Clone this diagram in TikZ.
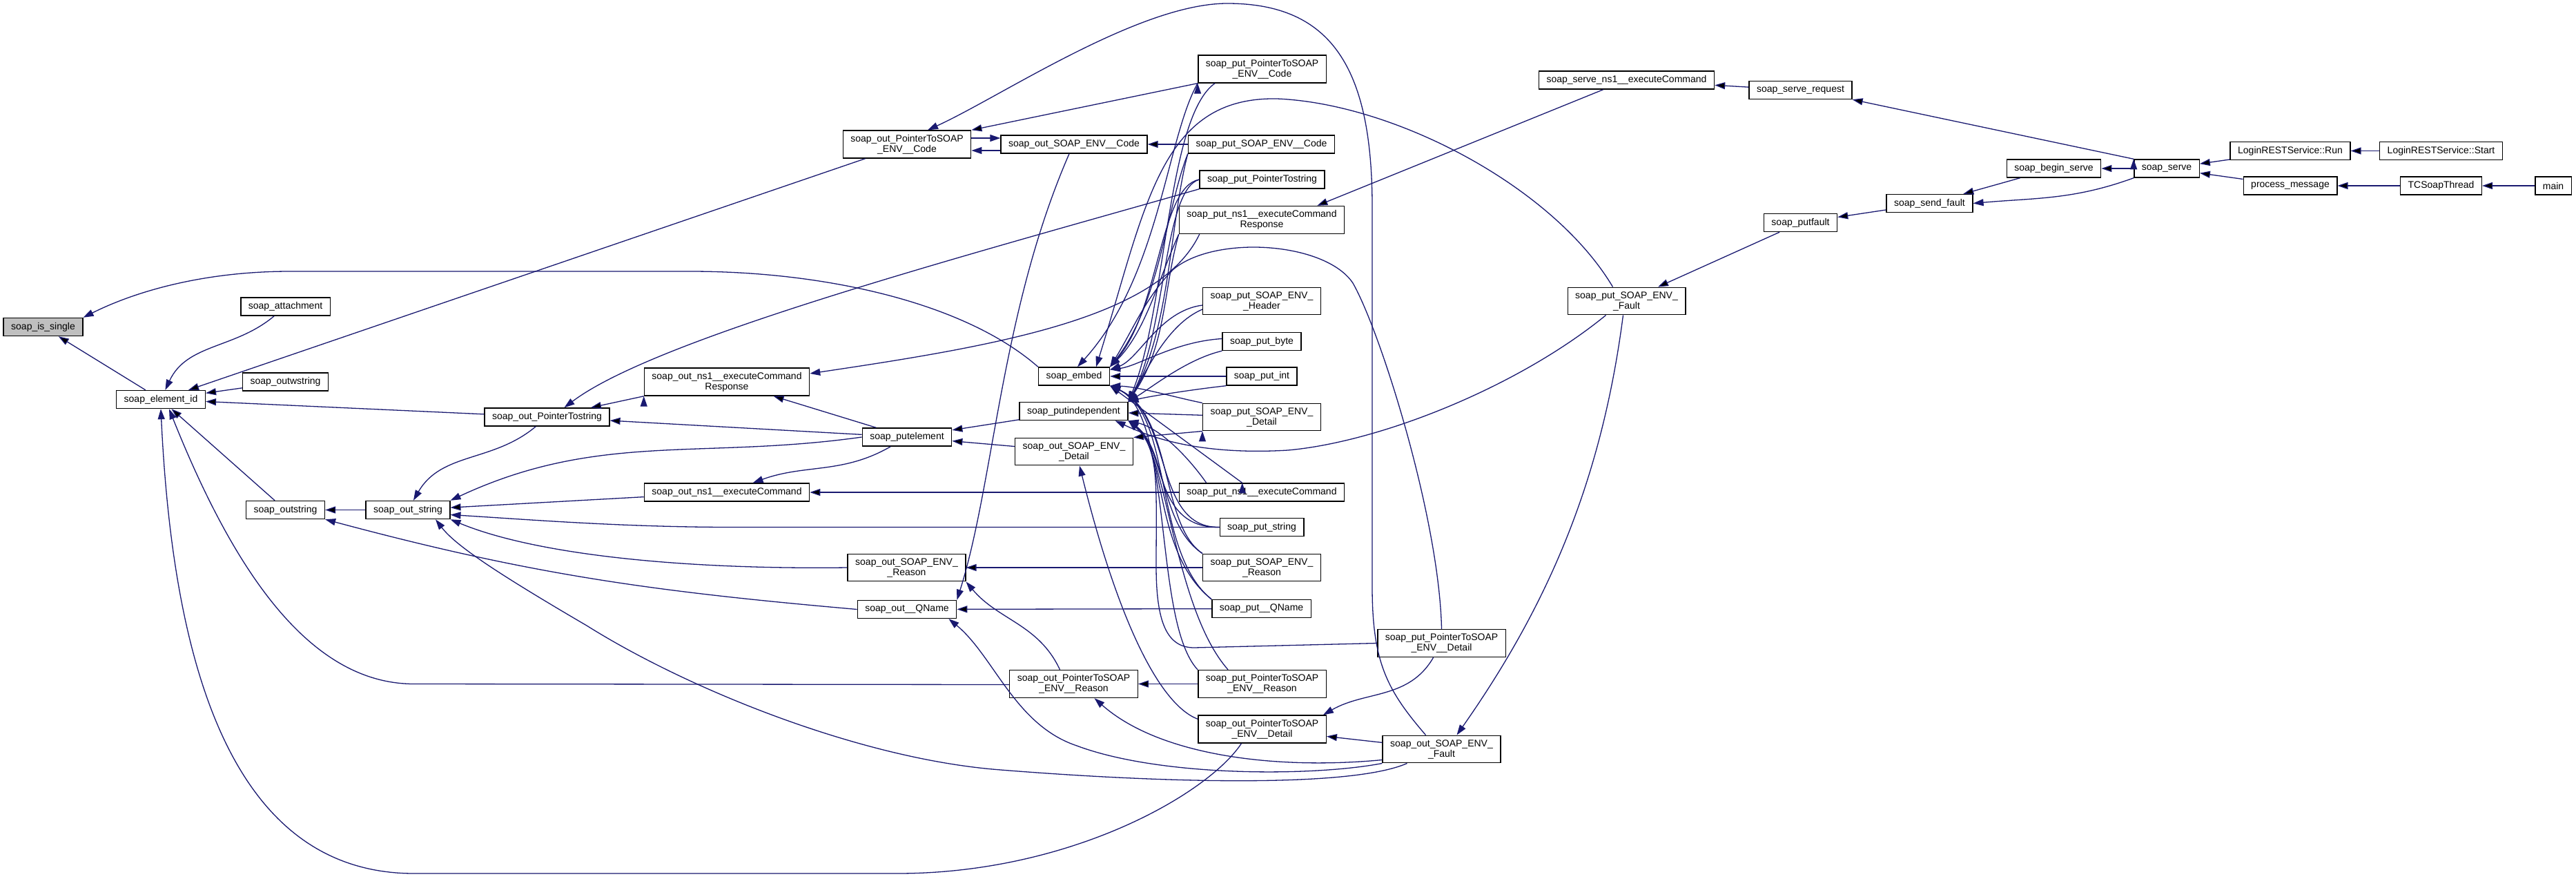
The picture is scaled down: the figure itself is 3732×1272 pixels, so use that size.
\documentclass[tikz,border=0pt]{standalone}
\usepackage{fontspec}
\setmainfont{Liberation Sans}
\usetikzlibrary{arrows.meta}
\definecolor{callblue}{RGB}{25,25,112}
\definecolor{rootgray}{RGB}{191,191,191}

\begin{document}
\begin{tikzpicture}[x=1pt, y=1pt,
	fn/.style={draw, rectangle, fill=white, line width=1.4pt, inner xsep=11pt, inner ysep=6pt, minimum height=26pt, align=center, font=\fontsize{14}{15}\selectfont},
	call/.style={draw=callblue, line width=1.3pt, -{Triangle[length=15pt, width=10pt]}}]
				\useasboundingbox (0,0) rectangle (3732,-1272);
				\node[fn, fill=rootgray] (isSingle) at (62.5,-473.5) {soap\_is\_single};
				\node[fn] (elementId) at (233,-578.5) {soap\_element\_id};
				\node[fn] (attachment) at (413.5,-444) {soap\_attachment};
				\node[fn] (outwstring) at (413.5,-553) {soap\_outwstring};
				\node[fn] (outstring) at (413.5,-738.5) {soap\_outstring};
				\node[fn] (outString) at (591,-738.5) {soap\_out\_string};
				\node[fn] (outPtrString) at (792.5,-604) {soap\_out\_PointerTostring};
				\node[fn] (outResp) at (1053,-553) {soap\_out\_ns1\_\_executeCommand\\Response};
				\node[fn] (outCmd) at (1053,-713) {soap\_out\_ns1\_\_executeCommand};
				\node[fn] (putelement) at (1314,-633) {soap\_putelement};
				\node[fn] (outEnvReason) at (1313.5,-822) {soap\_out\_SOAP\_ENV\_\\\_Reason};
				\node[fn] (outQName) at (1314,-882.5) {soap\_out\_\_QName};
				\node[fn] (outPtrCode) at (1314,-209) {soap\_out\_PointerToSOAP\\\_ENV\_\_Code};
				\node[fn] (outEnvCode) at (1556,-209) {soap\_out\_SOAP\_ENV\_\_Code};
				\node[fn] (embed) at (1556,-545) {soap\_embed};
				\node[fn] (putIndep) at (1555.5,-595.5) {soap\_putindependent};
				\node[fn] (outEnvDetail) at (1556,-654) {soap\_out\_SOAP\_ENV\_\\\_Detail};
				\node[fn] (outPtrReason) at (1555.5,-990.5) {soap\_out\_PointerToSOAP\\\_ENV\_\_Reason};
				\node[fn] (putPtrCode) at (1828.5,-100) {soap\_put\_PointerToSOAP\\\_ENV\_\_Code};
				\node[fn] (putEnvCode) at (1827.5,-209) {soap\_put\_SOAP\_ENV\_\_Code};
				\node[fn] (putPtrString) at (1828.5,-260) {soap\_put\_PointerTostring};
				\node[fn] (putResp) at (1828,-318.5) {soap\_put\_ns1\_\_executeCommand\\Response};
				\node[fn] (putHeader) at (1828,-436) {soap\_put\_SOAP\_ENV\_\\\_Header};
				\node[fn] (putByte) at (1828,-494.5) {soap\_put\_byte};
				\node[fn] (putInt) at (1828,-545) {soap\_put\_int};
				\node[fn] (putEnvDetail) at (1828,-604) {soap\_put\_SOAP\_ENV\_\\\_Detail};
				\node[fn] (putCmd) at (1828,-713) {soap\_put\_ns1\_\_executeCommand};
				\node[fn] (putString) at (1828,-763.5) {soap\_put\_string};
				\node[fn] (putEnvReason) at (1828,-822) {soap\_put\_SOAP\_ENV\_\\\_Reason};
				\node[fn] (putQName) at (1827.5,-881.5) {soap\_put\_\_QName};
				\node[fn] (putPtrReason) at (1828.5,-990.5) {soap\_put\_PointerToSOAP\\\_ENV\_\_Reason};
				\node[fn] (outPtrDetail) at (1828.5,-1056) {soap\_out\_PointerToSOAP\\\_ENV\_\_Detail};
				\node[fn] (putPtrDetail) at (2088.5,-931.5) {soap\_put\_PointerToSOAP\\\_ENV\_\_Detail};
				\node[fn] (outEnvFault) at (2088.5,-1085) {soap\_out\_SOAP\_ENV\_\\\_Fault};
				\node[fn] (serveCmd) at (2356.5,-116) {soap\_serve\_ns1\_\_executeCommand};
				\node[fn] (putEnvFault) at (2356.5,-436) {soap\_put\_SOAP\_ENV\_\\\_Fault};
				\node[fn] (serveRequest) at (2608.5,-130.5) {soap\_serve\_request};
				\node[fn] (putfault) at (2608.5,-322.5) {soap\_putfault};
				\node[fn] (sendFault) at (2795.5,-294.5) {soap\_send\_fault};
				\node[fn] (beginServe) at (2975.5,-244) {soap\_begin\_serve};
				\node[fn] (serve) at (3139,-244) {soap\_serve};
				\node[fn] (loginRun) at (3318,-218.5) {LoginRESTService::Run};
				\node[fn] (processMsg) at (3318,-269) {process\_message};
				\node[fn] (loginStart) at (3536.5,-218.5) {LoginRESTService::Start};
				\node[fn] (tcThread) at (3536.5,-269) {TCSoapThread};
				\node[fn] (main) at (3699,-269) {main};
				\draw[call] (main) edge (tcThread);
				\draw[call] (tcThread) edge (processMsg);
				\draw[call] (loginStart) edge (loginRun);
				\draw[call] (loginRun) edge (serve);
				\draw[call] (processMsg) edge (serve);
				\draw[call] (serve) edge (beginServe);
				\draw[call] (serve.north west) edge (serveRequest.south east);
				\draw[call] (serve.south west) to[out=200,in=5] (sendFault.east);
				\draw[call] (beginServe) edge (sendFault);
				\draw[call] (sendFault) edge (putfault);
				\draw[call] (putfault) edge (putEnvFault);
				\draw[call] (serveRequest) edge (serveCmd);
				\draw[call] (serveCmd) edge ([xshift=-40pt]putResp.north east);
				\draw[call] ([xshift=-5pt]putEnvFault.south) .. controls (2320,-700) and (2240,-880) .. ([xshift=22pt]outEnvFault.north);
				\draw[call] ([xshift=-20pt]putEnvFault.north) .. controls (2250,-270) and (2020,-150) .. (1850,-143) .. controls (1680,-140) and (1660,-300) .. ([xshift=32pt]embed.north);
				\draw[call] ([xshift=-30pt]putEnvFault.south) .. controls (2200,-560) and (2000,-640) .. (1866,-652) .. controls (1730,-660) and (1660,-630) .. ([xshift=-19pt]putIndep.south east);
				\draw[call] (putPtrDetail.north) .. controls (2085,-750) and (2000,-480) .. (1960,-410) .. controls (1920,-350) and (1760,-340) .. (1700,-390) .. controls (1660,-430) and (1640,-480) .. (embed.north east);
				\draw[call] (putPtrDetail.west) -- (1730,-938) .. controls (1690,-938) and (1675,-900) .. (1675,-820) .. controls (1675,-700) and (1680,-650) .. (putIndep.south east);
				\draw[call] (putPtrDetail) to[out=-120,in=30] ([xshift=-5pt]outPtrDetail.north east);
				\draw[call] (outEnvFault) edge (outPtrDetail);
				\draw[call] ([xshift=-23pt]outEnvFault.north) .. controls (2010,-1000) and (1988,-960) .. (1988,-850) -- (1988,-300) .. controls (1988,-100) and (1930,-5) .. (1778,-5) .. controls (1650,-5) and (1450,-140) .. ([xshift=30pt]outPtrCode.north);
				\draw[call] (outEnvFault.south west) .. controls (1900,-1125) and (1680,-1125) .. (1560,-1080) .. controls (1470,-1050) and (1440,-950) .. ([xshift=-12pt]outQName.south east);
				\draw[call] ([yshift=5pt]outEnvFault.south west) .. controls (1850,-1115) and (1680,-1095) .. ([xshift=30pt]outPtrReason.south);
				\draw[call] ([xshift=-50pt]outEnvFault.south) .. controls (1960,-1140) and (1700,-1135) .. (1450,-1115) .. controls (1250,-1100) and (1000,-1000) .. (850,-906) .. controls (720,-830) and (660,-790) .. ([xshift=40pt]outString.south);
				\draw[call] ([yshift=-6pt]outPtrDetail.north west) .. controls (1680,-1020) and (1620,-900) .. ([xshift=8pt]outEnvDetail.south);
				\draw[call] ([xshift=-30pt]outPtrDetail.south) .. controls (1750,-1150) and (1550,-1265) .. (1300,-1265) -- (600,-1265) .. controls (330,-1265) and (250,-950) .. (elementId.south);
				\draw[call] (putPtrReason) edge (outPtrReason);
				\draw[call] ([yshift=-1pt]outPtrReason.west) -- (600,-990.5) .. controls (450,-990.5) and (340,-830) .. ([xshift=12pt]elementId.south);
				\draw[call] ([xshift=-20pt]outPtrReason.north) to[out=115,in=-50] (outEnvReason.south east);
				\draw[call] (putEnvReason) edge (outEnvReason);
				\draw[call] (putQName) edge (outQName);
				\draw[call] ([xshift=-7pt]outEnvCode.south) .. controls (1450,-450) and (1440,-700) .. (outQName.north east);
				\draw[call] (outQName.west) to[out=175,in=-15] (outstring.south east);
				\draw[call] (putEnvDetail.south west) edge (outEnvDetail.north east);
				\draw[call] (putCmd) edge (outCmd);
				\draw[call] (putString.west) -- (1060,-763.5) .. controls (900,-763.5) and (760,-752) .. ([yshift=-7pt]outString.east);
				\draw[call] (outEnvReason.west) .. controls (1000,-825) and (780,-805) .. (outString.south east);
				\draw[call] (putEnvCode) edge (outEnvCode);
				\draw[call] (putPtrCode.south west) edge (outPtrCode.north east);
				\draw[call] ([yshift=-9pt]outEnvCode.west) -- ([yshift=-9pt]outPtrCode.east);
				\draw[call] ([yshift=9pt]outPtrCode.east) -- ([yshift=9pt]outEnvCode.west);
				\draw[call] ([xshift=30pt]putResp.south west) .. controls (1680,-460) and (1450,-500) .. ([yshift=12pt]outResp.east);
				\draw[call] (putPtrString.south west) .. controls (1400,-370) and (950,-490) .. ([xshift=25pt]outPtrString.north);
				\draw[call] (putPtrCode.south west) .. controls (1690,-200) and (1680,-400) .. ([xshift=5pt]embed.north);
				\draw[call] ([xshift=25pt]putPtrCode.south west) .. controls (1690,-170) and (1690,-450) .. (putIndep.north east);
				\draw[call] (putEnvCode.south west) .. controls (1690,-300) and (1680,-440) .. (embed.north east);
				\draw[call] (putEnvCode.south west) .. controls (1695,-320) and (1695,-480) .. (putIndep.north east);
				\draw[call] (putPtrString.west) .. controls (1680,-270) and (1680,-450) .. (embed.north east);
				\draw[call] (putPtrString.west) .. controls (1685,-275) and (1690,-480) .. (putIndep.north east);
				\draw[call] (putResp.south west) .. controls (1680,-400) and (1660,-480) .. (embed.north east);
				\draw[call] (putResp.south west) .. controls (1685,-420) and (1690,-500) .. (putIndep.north east);
				\draw[call] ([yshift=-6pt]putHeader.west) .. controls (1680,-450) and (1650,-520) .. ([yshift=-4pt]embed.north east);
				\draw[call] ([yshift=-12pt]putHeader.west) .. controls (1690,-470) and (1660,-540) .. (putIndep.north east);
				\draw[call] ([yshift=4pt]putByte.west) .. controls (1700,-495) and (1650,-530) .. ([yshift=-4pt]embed.north east);
				\draw[call] (putByte.south west) .. controls (1720,-520) and (1670,-560) .. (putIndep.north east);
				\draw[call] (putInt) edge (embed);
				\draw[call] (putInt.south west) .. controls (1720,-565) and (1660,-575) .. (putIndep.north east);
				\draw[call] (putEnvDetail.north west) .. controls (1700,-575) and (1650,-560) .. (embed.south east);
				\draw[call] (putEnvDetail) edge (putIndep);
				\draw[call] ([xshift=92pt]putCmd.north west) edge (embed.south east);
				\draw[call] ([xshift=40pt]putCmd.north west) .. controls (1720,-660) and (1680,-620) .. (putIndep.south east);
				\draw[call] (putString.west) .. controls (1670,-765) and (1700,-600) .. (embed.south east);
				\draw[call] (putString.west) .. controls (1670,-765) and (1690,-650) .. (putIndep.south east);
				\draw[call] (putEnvReason.north west) .. controls (1680,-760) and (1700,-600) .. (embed.south east);
				\draw[call] (putEnvReason.north west) .. controls (1680,-760) and (1690,-650) .. (putIndep.south east);
				\draw[call] (putQName.north west) .. controls (1670,-800) and (1700,-600) .. (embed.south east);
				\draw[call] (putQName.north west) .. controls (1670,-800) and (1690,-650) .. (putIndep.south east);
				\draw[call] (putPtrReason.north west) .. controls (1670,-900) and (1700,-600) .. (embed.south east);
				\draw[call] ([xshift=44pt]putPtrReason.north west) .. controls (1700,-880) and (1690,-650) .. (putIndep.south east);
				\draw[call] (putIndep) edge (putelement);
				\draw[call] (outEnvDetail) edge (putelement);
				\draw[call] (putelement) edge (outResp);
				\draw[call] (putelement) to[out=-150,in=20] (outCmd);
				\draw[call] (putelement) edge (outPtrString);
				\draw[call] (putelement.west) to[out=188,in=25] (outString.north east);
				\draw[call] (outCmd) edge (outString);
				\draw[call] (outResp.south west) edge (outPtrString);
				\draw[call] (outPtrString) to[out=-140,in=60] (outString);
				\draw[call] (outString) edge (outstring);
				\draw[call] (outstring) edge (elementId);
				\draw[call] (outPtrString) edge (elementId);
				\draw[call] (outwstring) edge (elementId);
				\draw[call] (attachment) to[out=-140,in=65] (elementId);
				\draw[call] (outPtrCode) edge (elementId);
				\draw[call] (elementId) edge (isSingle);
				\draw[call] (embed.north west) .. controls (1400,-440) and (1200,-393) .. (1000,-393) -- (420,-393) .. controls (300,-393) and (200,-420) .. (isSingle.north east);
			\end{tikzpicture}
\end{document}
